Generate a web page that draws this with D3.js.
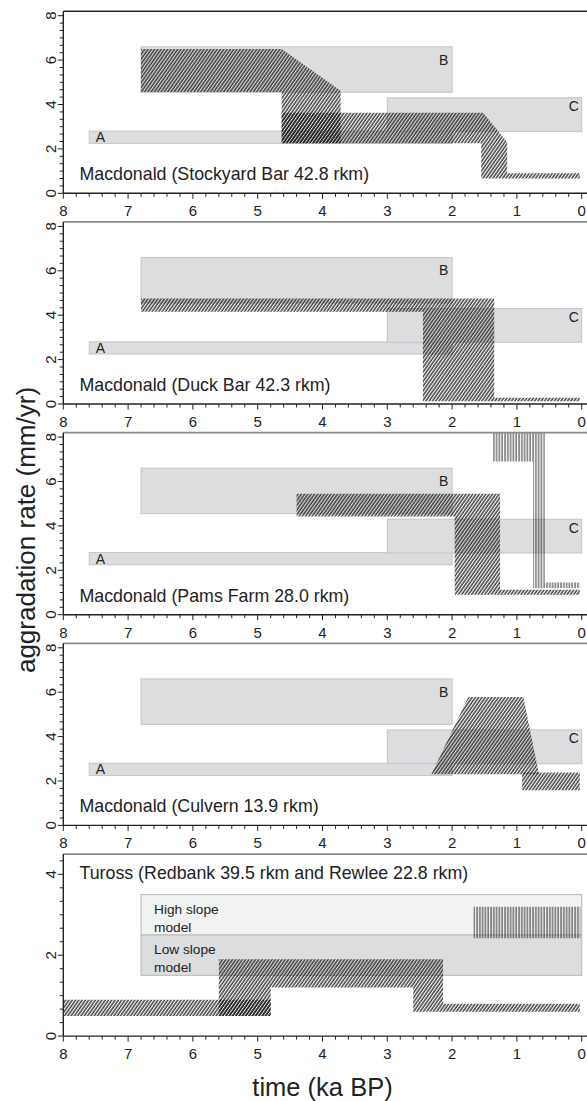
<html>
<head>
  <style type="text/css">
    body { margin: 0; background: #fff; }
    text { font-family: "Liberation Sans", Arial, sans-serif; fill: #222; }
  </style>
</head>
<body>
  <svg width="587" height="1101"></svg>
  <script src="https://cdnjs.cloudflare.com/ajax/libs/d3/7.8.5/d3.min.js"></script>
  <script>
  // ---- data (time in ka BP, rate in mm/yr) ----
  const xTicks = [8, 7, 6, 5, 4, 3, 2, 1, 0];
  const yTicksMac = [0, 2, 4, 6, 8];
  const yTicksTuross = [0, 2, 4];

  const panelTitles = [
    "Macdonald (Stockyard Bar 42.8 rkm)",
    "Macdonald (Duck Bar 42.3 rkm)",
    "Macdonald (Pams Farm 28.0 rkm)",
    "Macdonald (Culvern 13.9 rkm)",
    "Tuross (Redbank 39.5 rkm and Rewlee 22.8 rkm)"
  ];

  // reference boxes A, B, C: [ka start, ka end, rate low, rate high]
  const boxNames = ["A", "B", "C"];
  const boxExtents = [[7.6, 2.0, 2.25, 2.8], [6.8, 2.0, 4.55, 6.6], [3.0, 0.0, 2.78, 4.3]];
  const boxLabelAt = [[7.5, 2.3], [2.13, 5.8], [0.12, 3.7]];

  // hatched aggradation envelopes, polygons of [ka, rate]
  const stockyardDiag = [
    [[6.8, 6.5], [4.63, 6.5], [3.72, 4.62], [3.72, 2.25], [4.63, 2.25], [4.63, 4.56], [6.8, 4.56]],
    [[4.63, 3.63], [1.52, 3.63], [1.15, 2.3], [1.15, 0.9], [0.03, 0.9], [0.03, 0.67], [1.55, 0.67], [1.55, 2.25], [4.63, 2.25]]
  ];
  const duckDiag = [
    [[6.8, 4.75], [1.35, 4.75], [1.35, 0.28], [0.03, 0.28], [0.03, 0.12], [2.45, 0.12], [2.45, 4.15], [6.8, 4.15]]
  ];
  const pamsDiag = [
    [[4.4, 5.45], [1.26, 5.45], [1.26, 1.12], [0.03, 1.12], [0.03, 0.9], [1.96, 0.9], [1.96, 4.42], [4.4, 4.42]]
  ];
  const pamsVert = [
    [[1.37, 8.2], [0.57, 8.2], [0.57, 1.45], [0.03, 1.45], [0.03, 1.2], [0.75, 1.2], [0.75, 6.9], [1.37, 6.9]]
  ];
  const culvernDiag = [
    [[2.32, 2.3], [1.75, 5.78], [0.9, 5.78], [0.66, 2.3]],
    [[0.92, 2.38], [0.03, 2.38], [0.03, 1.58], [0.92, 1.58]]
  ];
  const turossDiag = [
    [[8.0, 0.9], [4.8, 0.9], [4.8, 0.5], [8.0, 0.5]],
    [[5.6, 1.9], [2.14, 1.9], [2.14, 0.8], [0.03, 0.8], [0.03, 0.6], [2.6, 0.6], [2.6, 1.2], [4.8, 1.2], [4.8, 0.5], [5.6, 0.5]]
  ];
  const turossVert = [
    [[1.67, 3.2], [0.02, 3.2], [0.02, 2.42], [1.67, 2.42]]
  ];
  // slope model boxes (Tuross)
  const slopeNames = [["High slope", "model"], ["Low slope", "model"]];
  const slopeExtents = [[6.8, 0.0, 2.5, 3.5], [6.8, 0.0, 1.5, 2.5]];
  const slopeFills = ["#f1f2f2", "#dcdddf"];

  const macPanels = [
    { diag: stockyardDiag, vert: [] },
    { diag: duckDiag, vert: [] },
    { diag: pamsDiag, vert: pamsVert },
    { diag: culvernDiag, vert: [] }
  ];

  // ---- layout ----
  const svg = d3.select("svg");
  const left = 63.3, right = 581.7;
  const panelStep = 210.7, firstBase = 193.3, unitMac = 22.2;

  const x = d3.scaleLinear().domain([8, 0]).range([left, right]);

  const defs = svg.append("defs");
  defs.append("pattern")
    .attr("id", "diag")
    .attr("patternUnits", "userSpaceOnUse")
    .attr("width", 2.7).attr("height", 3)
    .attr("patternTransform", "rotate(35)")
    .append("line")
      .attr("x1", 1).attr("y1", -1).attr("x2", 1).attr("y2", 4)
      .attr("stroke", "#111").attr("stroke-width", 1.2);
  defs.append("pattern")
    .attr("id", "vert")
    .attr("patternUnits", "userSpaceOnUse")
    .attr("width", 2.8).attr("height", 4)
    .append("line")
      .attr("x1", 1).attr("y1", -1).attr("x2", 1).attr("y2", 5)
      .attr("stroke", "#111").attr("stroke-width", 0.9);

  const drawAxes = (g, y, yTicks, yMax, base, topColor) => {
    const top = y(yMax);
    // top frame
    g.append("line")
      .attr("x1", left).attr("x2", 587).attr("y1", top).attr("y2", top)
      .attr("stroke", topColor).attr("stroke-width", topColor === "#222" ? 1.3 : 1.8);
    // x axis
    g.append("line")
      .attr("x1", left).attr("x2", 587).attr("y1", base).attr("y2", base)
      .attr("stroke", "#222").attr("stroke-width", 1.4);
    d3.range(0, 41).map(i => i * 0.2).forEach(v => {
      const major = Math.abs(v - Math.round(v)) < 1e-6;
      g.append("line")
        .attr("x1", x(v)).attr("x2", x(v))
        .attr("y1", base).attr("y2", base + (major ? 5.5 : 3.5))
        .attr("stroke", "#222").attr("stroke-width", 1);
    });
    g.selectAll(".xl").data(xTicks).enter().append("text")
      .attr("x", d => x(d)).attr("y", base + 23)
      .attr("text-anchor", "middle").attr("font-size", 15)
      .text(d => d);
    // y axis, minor ticks every 1/3 mm/yr
    g.append("line")
      .attr("x1", left).attr("x2", left).attr("y1", base).attr("y2", top)
      .attr("stroke", "#222").attr("stroke-width", 1.4);
    d3.range(0, Math.floor(yMax * 3) + 1).forEach(i => {
      const major = i % 6 === 0;
      g.append("line")
        .attr("x1", left - (major ? 5.5 : 3.5)).attr("x2", left)
        .attr("y1", y(i / 3)).attr("y2", y(i / 3))
        .attr("stroke", "#222").attr("stroke-width", 1);
    });
    g.selectAll(".yl").data(yTicks).enter().append("text")
      .attr("transform", d => "translate(56," + y(d) + ") rotate(-90)")
      .attr("text-anchor", "middle").attr("font-size", 15)
      .text(d => d);
  };

  const drawHatch = (g, y, polys, pattern) => {
    const line = d3.line().x(d => x(d[0])).y(d => y(d[1]));
    g.selectAll(".h-" + pattern).data(polys).enter().append("path")
      .attr("d", d => line(d) + "Z")
      .attr("fill", "url(#" + pattern + ")");
  };

  // ---- Macdonald panels ----
  macPanels.forEach((p, k) => {
    const base = firstBase + k * panelStep;
    const y = d3.scaleLinear().domain([0, 8]).range([base, base - 8 * unitMac]);
    const g = svg.append("g");

    g.selectAll(".box").data(boxExtents).enter().append("rect")
      .attr("x", d => x(d[0])).attr("width", d => x(d[1]) - x(d[0]))
      .attr("y", d => y(d[3])).attr("height", d => y(d[2]) - y(d[3]))
      .attr("fill", "#dcdddf").attr("stroke", "#c4c5c7").attr("stroke-width", 1);
    g.selectAll(".bl").data(boxNames).enter().append("text")
      .attr("x", (d, i) => x(boxLabelAt[i][0]))
      .attr("y", (d, i) => y(boxLabelAt[i][1]))
      .attr("text-anchor", (d, i) => i === 0 ? "start" : "middle")
      .attr("font-size", 14)
      .text(d => d);

    drawHatch(g, y, p.diag, "diag");
    drawHatch(g, y, p.vert, "vert");

    g.append("text")
      .attr("x", x(7.75)).attr("y", base - 13)
      .attr("font-size", 17.8)
      .text(panelTitles[k]);

    drawAxes(g, y, yTicksMac, 8.2, base, k === 0 ? "#222" : "#8a8a8a");
  });

  // ---- Tuross panel ----
  {
    const base = firstBase + 4 * panelStep;
    const y = d3.scaleLinear().domain([0, 4.5]).range([base, base - 182]);
    const g = svg.append("g");

    g.selectAll(".sbox").data(slopeExtents).enter().append("rect")
      .attr("x", d => x(d[0])).attr("width", d => x(d[1]) - x(d[0]))
      .attr("y", d => y(d[3])).attr("height", d => y(d[2]) - y(d[3]))
      .attr("fill", (d, i) => slopeFills[i]).attr("stroke", "#bfc0c2").attr("stroke-width", 1.2);
    slopeNames.forEach((lines, i) => {
      const t = g.append("text")
        .attr("x", x(6.6)).attr("y", y(slopeExtents[i][3]) + 19)
        .attr("font-size", 13.7);
      lines.forEach((s, j) => t.append("tspan").attr("x", x(6.6)).attr("dy", j ? 18.5 : 0).text(s));
    });

    drawHatch(g, y, turossDiag, "diag");
    drawHatch(g, y, turossVert, "vert");

    g.append("text")
      .attr("x", x(7.75)).attr("y", y(3.88))
      .attr("font-size", 17.8)
      .text(panelTitles[4]);

    drawAxes(g, y, yTicksTuross, 4.5, base, "#8a8a8a");
  }

  // ---- axis titles ----
  svg.append("text")
    .attr("x", 322.5).attr("y", 1096)
    .attr("text-anchor", "middle").attr("font-size", 25.5)
    .text("time (ka BP)");
  svg.append("text")
    .attr("transform", "translate(35,530) rotate(-90)")
    .attr("text-anchor", "middle").attr("font-size", 26)
    .text("aggradation rate (mm/yr)");
  </script>
</body>
</html>
